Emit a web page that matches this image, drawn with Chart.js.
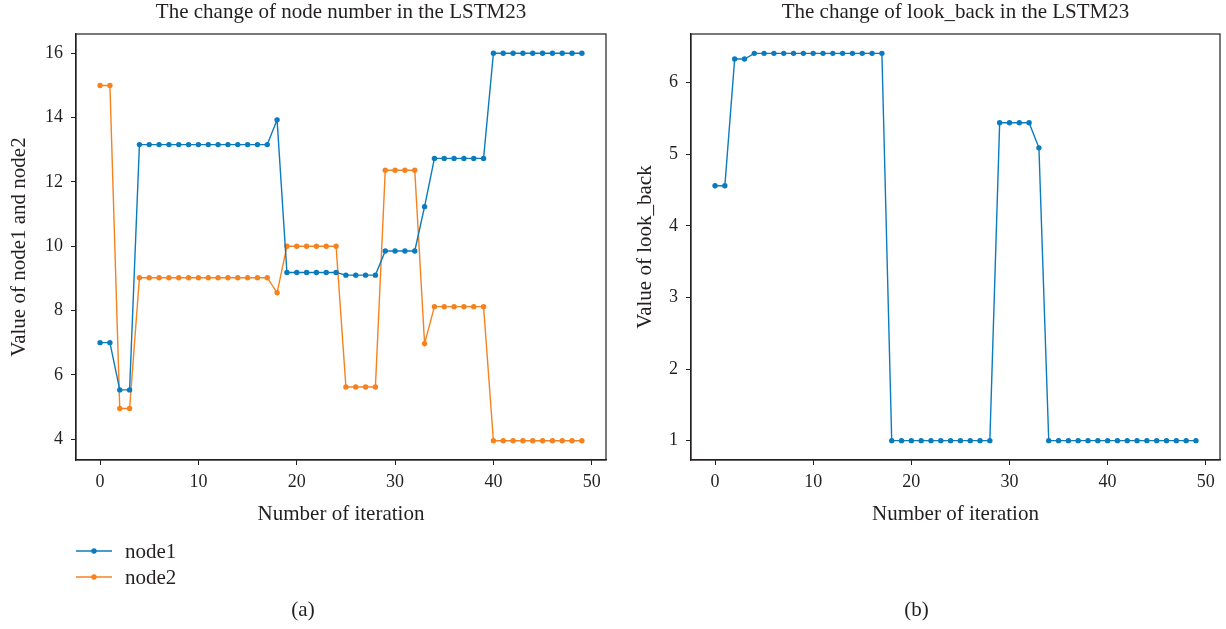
<!DOCTYPE html>
<html>
<head>
<meta charset="utf-8">
<script src="https://cdn.jsdelivr.net/npm/chart.js@4.4.1/dist/chart.umd.min.js"></script>
<style>
  html, body { margin: 0; padding: 0; background: #ffffff; }
  #wrap { position: relative; width: 1226px; height: 629px; }
  .cell { position: absolute; top: 0; width: 613px; height: 629px; }
</style>
</head>
<body>
<div id="wrap">
  <div class="cell" style="left:0"><canvas id="nodes" width="613" height="629"></canvas></div>
  <div class="cell" style="left:613px"><canvas id="lookback" width="613" height="629"></canvas></div>
</div>
<script>
// Iterations of the search
const iterations = [0, 1, 2, 3, 4, 5, 6, 7, 8, 9,
                    10, 11, 12, 13, 14, 15, 16, 17, 18, 19,
                    20, 21, 22, 23, 24, 25, 26, 27, 28, 29,
                    30, 31, 32, 33, 34, 35, 36, 37, 38, 39,
                    40, 41, 42, 43, 44, 45, 46, 47, 48, 49];

// Hidden-layer sizes per iteration
const node1 = [7.00, 7.00, 5.53, 5.53, 13.16, 13.16, 13.16, 13.16, 13.16, 13.16,
               13.16, 13.16, 13.16, 13.16, 13.16, 13.16, 13.16, 13.16, 13.93, 9.18,
               9.18, 9.18, 9.18, 9.18, 9.18, 9.10, 9.10, 9.10, 9.10, 9.85,
               9.85, 9.85, 9.85, 11.23, 12.73, 12.73, 12.73, 12.73, 12.73, 12.73,
               16.00, 16.00, 16.00, 16.00, 16.00, 16.00, 16.00, 16.00, 16.00, 16.00];

const node2 = [15.00, 15.00, 4.95, 4.95, 9.02, 9.02, 9.02, 9.02, 9.02, 9.02,
               9.02, 9.02, 9.02, 9.02, 9.02, 9.02, 9.02, 9.02, 8.55, 10.00,
               10.00, 10.00, 10.00, 10.00, 10.00, 5.62, 5.62, 5.62, 5.62, 12.36,
               12.36, 12.36, 12.36, 6.97, 8.12, 8.12, 8.12, 8.12, 8.12, 8.12,
               3.95, 3.95, 3.95, 3.95, 3.95, 3.95, 3.95, 3.95, 3.95, 3.95];

// look_back window per iteration
const lookBack = [4.56, 4.56, 6.33, 6.33, 6.41, 6.41, 6.41, 6.41, 6.41, 6.41,
                  6.41, 6.41, 6.41, 6.41, 6.41, 6.41, 6.41, 6.41, 1.00, 1.00,
                  1.00, 1.00, 1.00, 1.00, 1.00, 1.00, 1.00, 1.00, 1.00, 5.44,
                  5.44, 5.44, 5.44, 5.09, 1.00, 1.00, 1.00, 1.00, 1.00, 1.00,
                  1.00, 1.00, 1.00, 1.00, 1.00, 1.00, 1.00, 1.00, 1.00, 1.00];

const xTicks = [0, 10, 20, 30, 40, 50];
const nodeTicks = [4, 6, 8, 10, 12, 14, 16];
const lookBackTicks = [1, 2, 3, 4, 5, 6];

const BLUE = '#0a7bbd';
const ORANGE = '#f5821f';
const INK = '#231f20';
const SERIF = "'Liberation Serif', 'DejaVu Serif', serif";

function pairs(xs, ys) {
  return xs.map((x, i) => ({ x: x, y: ys[i] }));
}

function lineSet(label, values, color) {
  return {
    label: label,
    data: pairs(iterations, values),
    borderColor: color,
    backgroundColor: color,
    borderWidth: 1.4,
    pointRadius: 2.7,
    pointBorderWidth: 0,
    pointBackgroundColor: color,
    tension: 0
  };
}

// Box around the plotting area
const framePlugin = {
  id: 'frame',
  afterDatasetsDraw(chart) {
    const a = chart.chartArea;
    const ctx = chart.ctx;
    ctx.save();
    ctx.strokeStyle = INK;
    ctx.lineWidth = 1.2;
    ctx.strokeRect(a.left, a.top, a.right - a.left, a.bottom - a.top);
    ctx.restore();
  }
};

// Stacked legend with line-and-dot swatches under the x-axis title
const stackedLegend = {
  id: 'stackedLegend',
  afterDraw(chart, args, opts) {
    if (!opts.show) return;
    const ctx = chart.ctx;
    ctx.save();
    ctx.font = '21px ' + SERIF;
    ctx.textBaseline = 'middle';
    ctx.textAlign = 'left';
    chart.data.datasets.forEach((ds, i) => {
      const y = opts.top + i * opts.rowGap;
      ctx.strokeStyle = ds.borderColor;
      ctx.lineWidth = 1.4;
      ctx.beginPath();
      ctx.moveTo(opts.left, y);
      ctx.lineTo(opts.left + 36, y);
      ctx.stroke();
      ctx.fillStyle = ds.borderColor;
      ctx.beginPath();
      ctx.arc(opts.left + 18, y, 2.7, 0, Math.PI * 2);
      ctx.fill();
      ctx.fillStyle = INK;
      ctx.fillText(ds.label, opts.left + 49, y + 1);
    });
    ctx.restore();
  }
};

function buildOptions(cfg) {
  return {
    responsive: false,
    animation: false,
    events: [],
    layout: { padding: { left: 0, right: cfg.padRight, top: 0, bottom: 2 } },
    plugins: {
      legend: { display: false },
      tooltip: { enabled: false },
      title: {
        display: true,
        text: cfg.title,
        fullSize: false,
        color: INK,
        font: { family: SERIF, size: 21, weight: 'normal', lineHeight: 1.2 },
        padding: { top: 0, bottom: 8.8 }
      },
      subtitle: {
        display: true,
        text: cfg.panel,
        position: 'bottom',
        color: INK,
        font: { family: SERIF, size: 21, weight: 'normal', lineHeight: 1.2 },
        padding: { top: 67.4, bottom: 4.4 }
      },
      stackedLegend: { show: cfg.legend, left: 76, top: 551, rowGap: 26 }
    },
    scales: {
      x: {
        type: 'linear',
        min: -2.45,
        max: 51.45,
        afterBuildTicks(s) { s.ticks = xTicks.map(v => ({ value: v })); },
        ticks: {
          color: INK,
          font: { family: SERIF, size: 18, lineHeight: 1.2 },
          padding: 6,
          maxRotation: 0
        },
        grid: {
          display: true,
          drawOnChartArea: false,
          drawTicks: true,
          tickLength: 5,
          tickColor: INK,
          tickWidth: 1
        },
        border: { display: true, color: INK, width: 1.2 },
        title: {
          display: true,
          text: 'Number of iteration',
          color: INK,
          font: { family: SERIF, size: 21, lineHeight: 1.2 },
          padding: { top: 0, bottom: 3.4 }
        },
        afterFit(s) { s.height = 70; s.paddingLeft = 0; s.paddingRight = 0; }
      },
      y: {
        type: 'linear',
        min: cfg.yMin,
        max: cfg.yMax,
        afterBuildTicks(s) { s.ticks = cfg.yTicks.map(v => ({ value: v })); },
        ticks: {
          color: INK,
          font: { family: SERIF, size: 18, lineHeight: 1.2 },
          padding: 8
        },
        grid: {
          display: true,
          drawOnChartArea: false,
          drawTicks: true,
          tickLength: 5,
          tickColor: INK,
          tickWidth: 1
        },
        border: { display: true, color: INK, width: 1.2 },
        title: {
          display: true,
          text: cfg.yTitle,
          color: INK,
          font: { family: SERIF, size: 21, lineHeight: 1.2 },
          padding: { top: cfg.yTitlePad, bottom: 0 }
        },
        afterFit(s) { s.width = cfg.yWidth; s.paddingTop = 0; s.paddingBottom = 0; }
      }
    }
  };
}

new Chart(document.getElementById('nodes'), {
  type: 'line',
  data: {
    datasets: [
      lineSet('node1', node1, BLUE),
      lineSet('node2', node2, ORANGE)
    ]
  },
  options: buildOptions({
    title: 'The change of node number in the LSTM23',
    panel: '(a)',
    yTitle: 'Value of node1 and node2',
    yMin: 3.35, yMax: 16.6, yTicks: nodeTicks,
    yWidth: 76, yTitlePad: 6.4, padRight: 7, legend: true
  }),
  plugins: [framePlugin, stackedLegend]
});

new Chart(document.getElementById('lookback'), {
  type: 'line',
  data: {
    datasets: [
      lineSet('look_back', lookBack, BLUE)
    ]
  },
  options: buildOptions({
    title: 'The change of look_back in the LSTM23',
    panel: '(b)',
    yTitle: 'Value of look_back',
    yMin: 0.73, yMax: 6.68, yTicks: lookBackTicks,
    yWidth: 78, yTitlePad: 19.4, padRight: 6, legend: false
  }),
  plugins: [framePlugin, stackedLegend]
});
</script>
</body>
</html>
